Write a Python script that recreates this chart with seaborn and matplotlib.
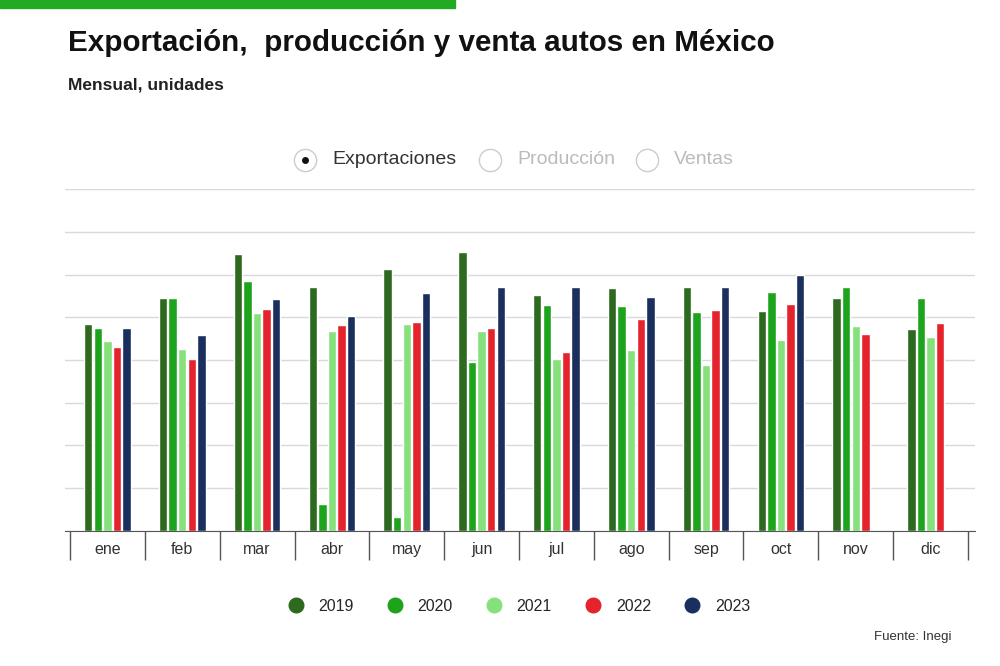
import matplotlib
matplotlib.use("Agg")
import matplotlib.pyplot as plt
from matplotlib.lines import Line2D
import seaborn as sns
import pandas as pd

# Monthly car exports (units)
months = ['ene', 'feb', 'mar', 'abr', 'may', 'jun', 'jul', 'ago', 'sep', 'oct', 'nov', 'dic']
years = ['2019', '2020', '2021', '2022', '2023']
exp_2019 = [242000, 272000, 324000, 286000, 307000, 326000, 276000, 284000, 285000, 257000, 273000, 236000]
exp_2020 = [237000, 272000, 293000, 31000, 16000, 198000, 264000, 263000, 256000, 279000, 286000, 273000]
exp_2021 = [222000, 213000, 255000, 234000, 242000, 234000, 201000, 212000, 194000, 223000, 240000, 227000]
exp_2022 = [215000, 201000, 260000, 241000, 244000, 237000, 209000, 248000, 258000, 266000, 230000, 243000]
exp_2023 = [237000, 229000, 271000, 252000, 278000, 285000, 285000, 274000, 286000, 300000, None, None]
colors = ['#2d6a1f', '#1ea31c', '#86e07c', '#e5232d', '#1a2f5e']

rows = []
for y, vals in zip(years, [exp_2019, exp_2020, exp_2021, exp_2022, exp_2023]):
    for m, v in zip(months, vals):
        if v is not None:
            rows.append({'mes': m, 'anio': y, 'valor': v})
df = pd.DataFrame(rows)

sns.set_style('white')
plt.rcParams['font.family'] = ['Liberation Sans', 'DejaVu Sans']

fig = plt.figure(figsize=(10, 6.66), dpi=100)
ax = fig.add_axes([0.065, 0.203, 0.91, 0.513])
sns.barplot(data=df, x='mes', y='valor', hue='anio', order=months, hue_order=years,
            palette=colors, saturation=1, width=0.64, gap=0.12, ax=ax, legend=False)

ax.set_ylim(0, 400000)
ax.set_yticks(range(0, 400001, 50000))
ax.yaxis.grid(True, color='#d9d9d9', linewidth=1)
ax.set_axisbelow(True)
ax.tick_params(axis='y', left=False, labelleft=False)
ax.set_xlim(-0.567, 11.594)
for s in ['top', 'left', 'right']:
    ax.spines[s].set_visible(False)
ax.spines['bottom'].set_color('#555555')
ax.set_xlabel('')
ax.set_ylabel('')

# category boxes below axis
ax.set_xticks([i - 0.5 for i in range(13)])
ax.set_xticklabels([''] * 13)
ax.tick_params(axis='x', which='major', bottom=True, length=21, width=1, color='#555555', direction='out')
ax.set_xticks(range(12), minor=True)
ax.set_xticklabels(months, minor=True, fontsize=11.5, color='#333333')
ax.tick_params(axis='x', which='minor', bottom=True, length=0, pad=8)

# top green stripe
fig.add_artist(plt.Rectangle((0, 0.988), 0.455, 0.012, transform=fig.transFigure, color='#22aa22'))
fig.text(0.068, 0.935, 'Exportación,  producción y venta autos en México', fontsize=21.3,
         fontweight='bold', color='#111111', va='center')
fig.text(0.068, 0.873, 'Mensual, unidades', fontsize=12.5, fontweight='bold', color='#222222', va='center')

# radio selector
for x, lab, on in [(0.305, 'Exportaciones', True), (0.49, 'Producción', False), (0.647, 'Ventas', False)]:
    fig.add_artist(Line2D([x], [0.76], marker='o', markersize=16, markerfacecolor='white',
                          markeredgecolor='#cccccc', transform=fig.transFigure))
    if on:
        fig.add_artist(Line2D([x], [0.76], marker='o', markersize=4, color='#111111',
                              transform=fig.transFigure))
    fig.text(x + 0.027, 0.76, lab, fontsize=14, va='center', color='#333333' if on else '#bbbbbb')

handles = [Line2D([], [], marker='o', linestyle='', markersize=10.5, color=c) for c in colors]
fig.legend(handles, years, loc='center', bbox_to_anchor=(0.515, 0.09), ncol=5, frameon=False,
           fontsize=11.5, handletextpad=0.4, columnspacing=1.6)
fig.text(0.952, 0.043, 'Fuente: Inegi', fontsize=9.5, ha='right', va='center', color='#333333')

fig.savefig('out.png', dpi=100)
